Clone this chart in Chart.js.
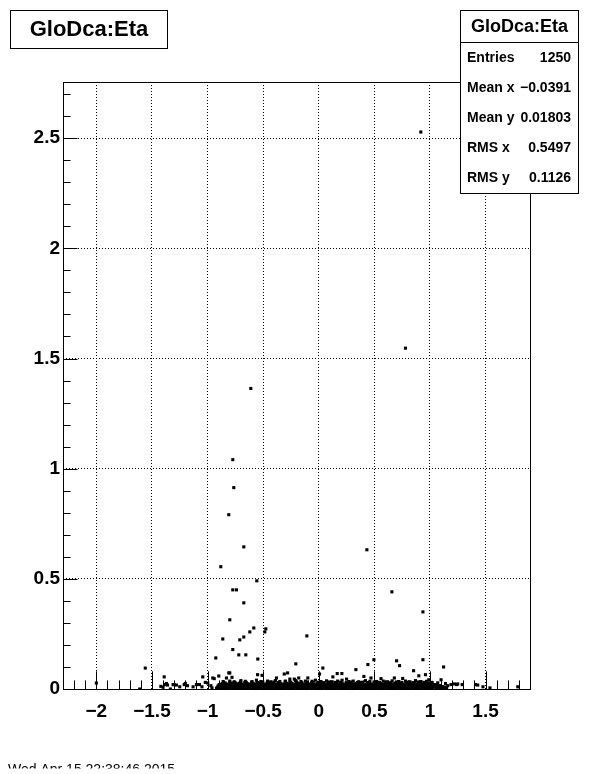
<!DOCTYPE html>
<html><head><meta charset="utf-8">
<script src="https://cdn.jsdelivr.net/npm/chart.js@4.4.0/dist/chart.umd.min.js"></script>
<style>html,body{margin:0;padding:0;background:#fff;overflow:hidden}</style>
</head><body>
<canvas id="c" width="596" height="774" style="display:block;width:596px;height:774px"></canvas>
<script>
// ---- tick labels / ranges ----
const xMajorTicks = [-2, -1.5, -1, -0.5, 0, 0.5, 1, 1.5];
const yMajorTicks = [0, 0.5, 1, 1.5, 2, 2.5];
const xRange = [-2.3, 1.9];
const yRange = [0, 2.755];

// ---- stats box ----
const statsTitle = "GloDca:Eta";
const statsLabels = ["Entries", "Mean x", "Mean y", "RMS x", "RMS y"];
const statsValues = ["1250", "\u22120.0391", "0.01803", "0.5497", "0.1126"];
const histTitle = "GloDca:Eta";
const dateText = "Wed Apr 15 22:38:46 2015";

// ---- points ----
const outlierPoints = [[0.918,2.528],[0.78,1.547],[-0.611,1.364],[-0.773,1.041],[-0.764,0.914],[-0.809,0.791],
 [-0.674,0.645],[0.433,0.632],[-0.881,0.555],[-0.557,0.491],[-0.773,0.45],[-0.74,0.45],[0.658,0.441],
 [-0.674,0.391],[0.937,0.35],[-0.8,0.314],[-0.584,0.277],[-0.476,0.273],[-0.62,0.259],[-0.485,0.259],
 [-0.674,0.236],[-0.107,0.241],[-0.863,0.227],[-0.71,0.223],[-0.773,0.179]];

const lowPoints = [[-0.926,0.141],[-0.719,0.155],[-0.656,0.155],[-0.548,0.136],[-0.206,0.114],[0.037,0.095],
 [-0.809,0.073],[-0.899,0.059],[-0.953,0.05],[-0.94,0.047],[-0.83,0.05],[-0.80,0.073],[-0.78,0.053],
 [-0.55,0.065],[-0.51,0.062],[-0.38,0.05],[-0.31,0.068],[-0.28,0.073],[-0.26,0.045],[-0.22,0.045],
 [-0.18,0.05],[-0.098,0.05],[0.007,0.068],[0.127,0.055],[0.166,0.07],[0.208,0.07],[0.25,0.045],
 [0.334,0.088],[0.406,0.057],[0.442,0.111],[0.496,0.133],[0.47,0.05],[0.56,0.047],[0.68,0.05],
 [0.70,0.128],[0.727,0.106],[0.755,0.048],[0.853,0.083],[0.9,0.06],[0.96,0.065],[0.937,0.133],
 [0.99,0.042],[1.1,0.042],[1.123,0.1],[-1.043,0.055],[-0.998,0.027]];

const leftTail = [[-2.0,0.027],[-1.61,0.0],[-1.56,0.095],[-1.39,0.055],[-1.385,0.02],[-1.37,0.025],
 [-1.36,0.018],[-1.334,0.0],[-1.31,0.02],[-1.3,0.02],[-1.28,0.018],[-1.21,0.02],[-1.2,0.025],
 [-1.18,0.015],[-1.13,0.01],[-1.1,0.02],[-1.073,0.02],[-1.05,0.01],[-1.02,0.03],[-1.42,0.012],
 [-1.4,0.008],[-1.25,0.01],[-0.97,0.015],[-0.96,0.005]];

const rightTail = [[1.19,0.02],[1.24,0.02],[1.22,0.023],[1.25,0.023],[1.29,0.02],[1.41,0.02],
 [1.43,0.018],[1.477,0.01],[1.54,0.005],[1.79,0.01],[1.16,0.015],[1.14,0.025],[1.15,0.005]];

const bandRow1 = [[-0.92,0.004],[-0.895,0.006],[-0.87,0.003],[-0.845,0.005],[-0.82,0.004],[-0.795,0.007],
 [-0.77,0.003],[-0.745,0.005],[-0.72,0.004],[-0.695,0.006],[-0.67,0.003],[-0.645,0.005],[-0.62,0.004],
 [-0.595,0.006],[-0.57,0.003],[-0.545,0.005],[-0.52,0.004],[-0.495,0.007],[-0.47,0.003],[-0.445,0.005],
 [-0.42,0.004],[-0.395,0.006],[-0.37,0.003],[-0.345,0.005],[-0.32,0.004],[-0.295,0.006],[-0.27,0.003],
 [-0.245,0.005],[-0.22,0.004],[-0.195,0.006],[-0.17,0.003],[-0.145,0.005],[-0.12,0.004],[-0.095,0.006],
 [-0.07,0.003],[-0.045,0.005],[-0.02,0.004],[0.005,0.006],[0.03,0.003],[0.055,0.005],[0.08,0.004],
 [0.105,0.006],[0.13,0.003],[0.155,0.005],[0.18,0.004],[0.205,0.006],[0.23,0.003],[0.255,0.005],
 [0.28,0.004],[0.305,0.006],[0.33,0.003],[0.355,0.005],[0.38,0.004],[0.405,0.006],[0.43,0.003],
 [0.455,0.005],[0.48,0.004],[0.505,0.006],[0.53,0.003],[0.555,0.005],[0.58,0.004],[0.605,0.006],
 [0.63,0.003],[0.655,0.005],[0.68,0.004],[0.705,0.006],[0.73,0.003],[0.755,0.005],[0.78,0.004],
 [0.805,0.006],[0.83,0.003],[0.855,0.005],[0.88,0.004],[0.905,0.006],[0.93,0.003],[0.955,0.005],
 [0.98,0.004],[1.005,0.006],[1.03,0.003],[1.06,0.005],[1.09,0.004],[1.12,0.006]];

const bandRow2 = [[-0.905,0.014],[-0.88,0.012],[-0.855,0.016],[-0.83,0.013],[-0.805,0.017],[-0.78,0.012],
 [-0.757,0.015],[-0.733,0.013],[-0.708,0.016],[-0.683,0.012],[-0.658,0.015],[-0.633,0.014],[-0.608,0.017],
 [-0.583,0.012],[-0.558,0.015],[-0.533,0.013],[-0.508,0.016],[-0.483,0.012],[-0.458,0.015],[-0.433,0.014],
 [-0.408,0.017],[-0.383,0.012],[-0.358,0.015],[-0.333,0.013],[-0.308,0.016],[-0.283,0.012],[-0.258,0.015],
 [-0.233,0.014],[-0.208,0.017],[-0.183,0.012],[-0.158,0.015],[-0.133,0.013],[-0.108,0.016],[-0.083,0.012],
 [-0.058,0.015],[-0.033,0.014],[-0.008,0.017],[0.017,0.012],[0.042,0.015],[0.067,0.013],[0.092,0.016],
 [0.117,0.012],[0.142,0.015],[0.167,0.014],[0.192,0.017],[0.217,0.012],[0.242,0.015],[0.267,0.013],
 [0.292,0.016],[0.317,0.012],[0.342,0.015],[0.367,0.014],[0.392,0.017],[0.417,0.012],[0.442,0.015],
 [0.467,0.013],[0.492,0.016],[0.517,0.012],[0.542,0.015],[0.567,0.014],[0.592,0.017],[0.617,0.012],
 [0.642,0.015],[0.667,0.013],[0.692,0.016],[0.717,0.012],[0.742,0.015],[0.767,0.014],[0.792,0.017],
 [0.817,0.012],[0.842,0.015],[0.867,0.013],[0.892,0.016],[0.917,0.012],[0.942,0.015],[0.967,0.014],
 [0.992,0.017],[1.02,0.012],[1.05,0.014],[1.08,0.013],[1.11,0.011]];

const bandRow3 = [[-0.87,0.024],[-0.84,0.027],[-0.815,0.022],[-0.79,0.025],[-0.765,0.028],[-0.74,0.023],
 [-0.715,0.026],[-0.69,0.022],[-0.665,0.029],[-0.64,0.024],[-0.615,0.022],[-0.59,0.026],[-0.565,0.023],
 [-0.54,0.028],[-0.515,0.024],[-0.49,0.022],[-0.465,0.027],[-0.44,0.023],[-0.415,0.025],[-0.39,0.022],
 [-0.365,0.029],[-0.34,0.024],[-0.315,0.022],[-0.29,0.026],[-0.265,0.023],[-0.24,0.025],[-0.215,0.022],
 [-0.19,0.027],[-0.165,0.024],[-0.14,0.022],[-0.115,0.026],[-0.09,0.023],[-0.065,0.028],[-0.04,0.022],
 [-0.015,0.025],[0.01,0.023],[0.035,0.027],[0.06,0.022],[0.085,0.025],[0.11,0.024],[0.135,0.022],
 [0.16,0.028],[0.185,0.023],[0.21,0.026],[0.235,0.022],[0.26,0.024],[0.285,0.027],[0.31,0.022],
 [0.335,0.025],[0.36,0.023],[0.385,0.029],[0.41,0.022],[0.435,0.026],[0.46,0.024],[0.485,0.022],
 [0.51,0.027],[0.535,0.023],[0.56,0.025],[0.585,0.022],[0.61,0.028],[0.635,0.024],[0.66,0.022],
 [0.685,0.026],[0.71,0.023],[0.735,0.025],[0.76,0.022],[0.785,0.027],[0.81,0.024],[0.835,0.022],
 [0.86,0.026],[0.885,0.023],[0.91,0.025],[0.935,0.022],[0.96,0.027],[0.985,0.023],[1.01,0.021],[1.04,0.02]];

const bandRow4 = [[-0.908,0.009],[-0.883,0.01],[-0.858,0.008],[-0.833,0.011],[-0.808,0.009],[-0.783,0.01],
 [-0.758,0.008],[-0.733,0.009],[-0.708,0.011],[-0.683,0.008],[-0.658,0.01],[-0.633,0.009],[-0.608,0.008],
 [-0.583,0.011],[-0.558,0.009],[-0.533,0.01],[-0.508,0.008],[-0.483,0.009],[-0.458,0.011],[-0.433,0.008],
 [-0.408,0.01],[-0.383,0.009],[-0.358,0.008],[-0.333,0.011],[-0.308,0.009],[-0.283,0.01],[-0.258,0.008],
 [-0.233,0.009],[-0.208,0.011],[-0.183,0.008],[-0.158,0.01],[-0.133,0.009],[-0.108,0.008],[-0.083,0.011],
 [-0.058,0.009],[-0.033,0.01],[-0.008,0.008],[0.017,0.009],[0.042,0.011],[0.067,0.008],[0.092,0.01],
 [0.117,0.009],[0.142,0.008],[0.167,0.011],[0.192,0.009],[0.217,0.01],[0.242,0.008],[0.267,0.009],
 [0.292,0.011],[0.317,0.008],[0.342,0.01],[0.367,0.009],[0.392,0.008],[0.417,0.011],[0.442,0.009],
 [0.467,0.01],[0.492,0.008],[0.517,0.009],[0.542,0.011],[0.567,0.008],[0.592,0.01],[0.617,0.009],
 [0.642,0.008],[0.667,0.011],[0.692,0.009],[0.717,0.01],[0.742,0.008],[0.767,0.009],[0.792,0.011],
 [0.817,0.008],[0.842,0.01],[0.867,0.009],[0.892,0.008],[0.917,0.011],[0.942,0.009],[0.967,0.01],
 [0.992,0.008],[1.017,0.009],[1.045,0.011],[1.075,0.008],[1.1,0.01],[1.13,0.009]];

const bandRow5 = [[-0.895,0.02],[-0.87,0.019],[-0.845,0.021],[-0.82,0.018],[-0.795,0.02],[-0.77,0.019],
 [-0.745,0.021],[-0.72,0.018],[-0.695,0.02],[-0.67,0.019],[-0.645,0.021],[-0.62,0.018],[-0.595,0.02],
 [-0.57,0.019],[-0.545,0.021],[-0.52,0.018],[-0.495,0.02],[-0.47,0.019],[-0.445,0.021],[-0.42,0.018],
 [-0.395,0.02],[-0.37,0.019],[-0.345,0.021],[-0.32,0.018],[-0.295,0.02],[-0.27,0.019],[-0.245,0.021],
 [-0.22,0.018],[-0.195,0.02],[-0.17,0.019],[-0.145,0.021],[-0.12,0.018],[-0.095,0.02],[-0.07,0.019],
 [-0.045,0.021],[-0.02,0.018],[0.005,0.02],[0.03,0.019],[0.055,0.021],[0.08,0.018],[0.105,0.02],
 [0.13,0.019],[0.155,0.021],[0.18,0.018],[0.205,0.02],[0.23,0.019],[0.255,0.021],[0.28,0.018],
 [0.305,0.02],[0.33,0.019],[0.355,0.021],[0.38,0.018],[0.405,0.02],[0.43,0.019],[0.455,0.021],
 [0.48,0.018],[0.505,0.02],[0.53,0.019],[0.555,0.021],[0.58,0.018],[0.605,0.02],[0.63,0.019],
 [0.655,0.021],[0.68,0.018],[0.705,0.02],[0.73,0.019],[0.755,0.021],[0.78,0.018],[0.805,0.02],
 [0.83,0.019],[0.855,0.021],[0.88,0.018],[0.905,0.02],[0.93,0.019],[0.955,0.021],[0.98,0.018],
 [1.005,0.02],[1.035,0.017],[1.065,0.018],[1.095,0.016]];

const bandRow6 = [[-0.855,0.03],[-0.8,0.031],[-0.752,0.029],[-0.703,0.032],[-0.652,0.03],[-0.603,0.031],
 [-0.552,0.029],[-0.503,0.032],[-0.452,0.03],[-0.403,0.031],[-0.352,0.029],[-0.303,0.032],[-0.252,0.03],
 [-0.203,0.031],[-0.152,0.029],[-0.103,0.032],[-0.052,0.03],[-0.003,0.031],[0.047,0.029],[0.097,0.032],
 [0.147,0.03],[0.197,0.031],[0.247,0.029],[0.297,0.032],[0.347,0.03],[0.397,0.031],[0.447,0.029],
 [0.497,0.032],[0.547,0.03],[0.597,0.031],[0.647,0.029],[0.697,0.032],[0.747,0.03],[0.797,0.031],
 [0.847,0.029],[0.897,0.032],[0.947,0.03],[0.997,0.028]];

const bandTop = [[-0.86,0.034],[-0.8,0.036],[-0.76,0.033],[-0.7,0.038],[-0.66,0.035],[-0.6,0.033],
 [-0.56,0.04],[-0.52,0.034],[-0.46,0.036],[-0.43,0.033],[-0.39,0.038],[-0.35,0.034],[-0.3,0.036],
 [-0.26,0.033],[-0.21,0.039],[-0.16,0.034],[-0.12,0.036],[-0.06,0.035],[-0.03,0.04],[0.02,0.034],
 [0.07,0.037],[0.12,0.033],[0.17,0.036],[0.21,0.04],[0.27,0.034],[0.31,0.036],[0.36,0.033],
 [0.42,0.038],[0.46,0.035],[0.52,0.034],[0.58,0.036],[0.62,0.033],[0.66,0.037],[0.72,0.034],
 [0.78,0.036],[0.82,0.033],[0.87,0.038],[0.92,0.034],[0.97,0.035],[1.02,0.03],[1.07,0.028]];

const allPoints = [].concat(bandRow1, bandRow2, bandRow3, bandRow4, bandRow5, bandRow6, bandTop,
  lowPoints, leftTail, rightTail, outlierPoints).map(p => ({x: p[0], y: p[1]}));

const FONT = "'Liberation Sans', Arial, Helvetica, sans-serif";
const fmt = v => (v < 0 ? "\u2212" + String(Math.abs(v)) : String(v));

const rootDecor = {
  id: 'rootDecor',
  afterDraw(chart) {
    const ctx = chart.ctx, a = chart.chartArea, xs = chart.scales.x, ys = chart.scales.y;
    const W = a.right - a.left, H = a.bottom - a.top;
    ctx.save();
    ctx.strokeStyle = '#000'; ctx.lineWidth = 1; ctx.setLineDash([]);
    // frame
    ctx.strokeRect(Math.round(a.left) + 0.5, Math.round(a.top) + 0.5, Math.round(W), Math.round(H));
    // x ticks (inside, pointing up)
    for (let i = -23; i <= 19; i++) {
      const v = i / 10;
      const px = Math.round(xs.getPixelForValue(v)) + 0.5;
      const len = (i % 5 === 0) ? 0.03 * H : 0.015 * H;
      ctx.beginPath(); ctx.moveTo(px, a.bottom + 0.5); ctx.lineTo(px, a.bottom + 0.5 - len); ctx.stroke();
    }
    // y ticks (inside, pointing right)
    for (let i = 0; i <= 27; i++) {
      const v = i / 10;
      const py = Math.round(ys.getPixelForValue(v)) + 0.5;
      const len = (i % 5 === 0) ? 0.03 * W : 0.015 * W;
      ctx.beginPath(); ctx.moveTo(a.left + 0.5, py); ctx.lineTo(a.left + 0.5 + len, py); ctx.stroke();
    }
    // title box
    ctx.fillStyle = '#fff';
    ctx.fillRect(10, 10, 157, 38);
    ctx.strokeRect(10.5, 10.5, 157, 38);
    ctx.fillStyle = '#000';
    ctx.font = "bold 22px " + FONT;
    ctx.textAlign = 'center'; ctx.textBaseline = 'middle';
    ctx.fillText(histTitle, 89, 30);
    // stats box
    ctx.fillStyle = '#fff';
    ctx.fillRect(460, 10, 118, 183);
    ctx.strokeRect(460.5, 10.5, 118, 183);
    ctx.beginPath(); ctx.moveTo(460, 42.5); ctx.lineTo(579, 42.5); ctx.stroke();
    ctx.fillStyle = '#000';
    ctx.font = "bold 18px " + FONT;
    ctx.textAlign = 'center';
    ctx.fillText(statsTitle, 519.5, 27);
    ctx.font = "bold 14px " + FONT;
    const rowY = [58, 88, 118, 148.5, 178];
    for (let i = 0; i < statsLabels.length; i++) {
      ctx.textAlign = 'left'; ctx.fillText(statsLabels[i], 467, rowY[i]);
      ctx.textAlign = 'right'; ctx.fillText(statsValues[i], 571, rowY[i]);
    }
    // date line at bottom, only its upper part is visible
    ctx.beginPath(); ctx.rect(0, 755, 300, 13.5); ctx.clip();
    ctx.font = "14px " + FONT;
    ctx.textAlign = 'left'; ctx.textBaseline = 'alphabetic';
    ctx.fillText(dateText, 8, 773.5);
    ctx.restore();
  }
};

new Chart(document.getElementById('c'), {
  type: 'scatter',
  data: { datasets: [{
    data: allPoints,
    pointStyle: 'rect', pointRadius: 2.2, pointHoverRadius: 2.2,
    backgroundColor: '#000', borderWidth: 0, borderColor: '#000'
  }]},
  options: {
    responsive: false, animation: false, devicePixelRatio: 1, events: [],
    layout: { padding: { left: 0, top: 82, right: 66, bottom: 0 } },
    plugins: { legend: { display: false }, tooltip: { enabled: false }, title: { display: false } },
    scales: {
      x: {
        type: 'linear', min: xRange[0], max: xRange[1],
        afterBuildTicks: s => { s.ticks = xMajorTicks.map(v => ({ value: v })); },
        afterFit: s => { s.height = 85; },
        grid: { color: '#000', lineWidth: 1, drawTicks: false, borderDash: [1, 2] },
        border: { display: false, dash: [1, 2] },
        ticks: { color: '#000', font: { family: FONT, size: 19, weight: 'bold' }, padding: 11,
                 maxRotation: 0, autoSkip: false, callback: v => fmt(v) }
      },
      y: {
        type: 'linear', min: yRange[0], max: yRange[1],
        afterBuildTicks: s => { s.ticks = yMajorTicks.map(v => ({ value: v })); },
        afterFit: s => { s.width = 63; },
        grid: { color: '#000', lineWidth: 1, drawTicks: false, borderDash: [1, 2] },
        border: { display: false, dash: [1, 2] },
        ticks: { color: '#000', font: { family: FONT, size: 19, weight: 'bold' }, padding: 3,
                 autoSkip: false, callback: v => fmt(v) }
      }
    }
  },
  plugins: [rootDecor]
});
</script>
</body></html>
